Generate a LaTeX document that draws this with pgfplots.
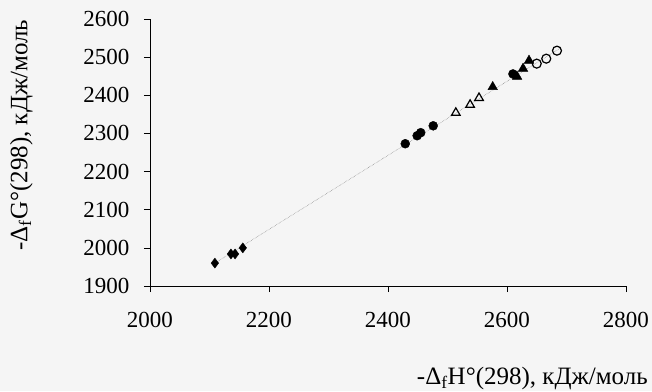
\documentclass[border=0pt]{standalone}
\usepackage{fontspec}
\setmainfont{Liberation Serif}
\usepackage{pgfplots}
\pgfplotsset{compat=1.18}
\begin{document}
\begin{tikzpicture}
\useasboundingbox[fill=black!4] (-150pt,-105pt) rectangle (502pt,286pt);
\begin{axis}[
 scale only axis, width=476pt, height=267pt,
 xmin=2000,xmax=2800,ymin=1900,ymax=2600,
 axis lines=left, axis line style={-, line width=0.6pt},
 xtick={2000,2200,...,2800}, ytick={1900,2000,...,2600},
 tick align=outside, major tick length=6pt,
 tick style={black, line width=0.5pt},
 /pgf/number format/assume math mode=true,
 /pgf/number format/set thousands separator={},
 ticklabel style={font=\fontsize{23}{26}\selectfont},
 xticklabel style={yshift=-17pt},
 yticklabel style={xshift=-11pt},
 xlabel={-Δ\textsubscript{f}H°(298), кДж/моль},
 ylabel={-Δ\textsubscript{f}G°(298), кДж/моль},
 every axis x label/.style={at={(axis description cs:1.046,-0.348)}, anchor=east, inner sep=0pt, font=\fontsize{25}{28}\selectfont},
 every axis y label/.style={at={(axis description cs:-0.27,0.565)}, rotate=90, anchor=center, font=\fontsize{25}{28}\selectfont},
 clip=false,
]
\addplot[densely dotted, gray, line width=0.5pt] coordinates {(2110,1961) (2690,2524)};
\addplot[only marks, mark=diamond*, mark size=5pt, black] coordinates {
 (2109,1960) (2136,1984) (2143,1984) (2156,2000)};
\addplot[only marks, mark=*, mark size=4.5pt, black] coordinates {
 (2429,2273) (2449,2294) (2455,2302) (2476,2320) (2610,2456)};
\addplot[only marks, mark=triangle, mark size=5pt, black, line width=1.2pt] coordinates {
 (2514,2354) (2538,2375) (2553,2393)};
\addplot[only marks, mark=triangle*, mark size=5.5pt, black] coordinates {
 (2576,2422) (2617,2449) (2627,2470) (2637,2491)};
\addplot[only marks, mark=o, mark size=4.5pt, black, line width=1.2pt] coordinates {
 (2650,2483) (2666,2496) (2684,2517)};
\end{axis}
\end{tikzpicture}
\end{document}
